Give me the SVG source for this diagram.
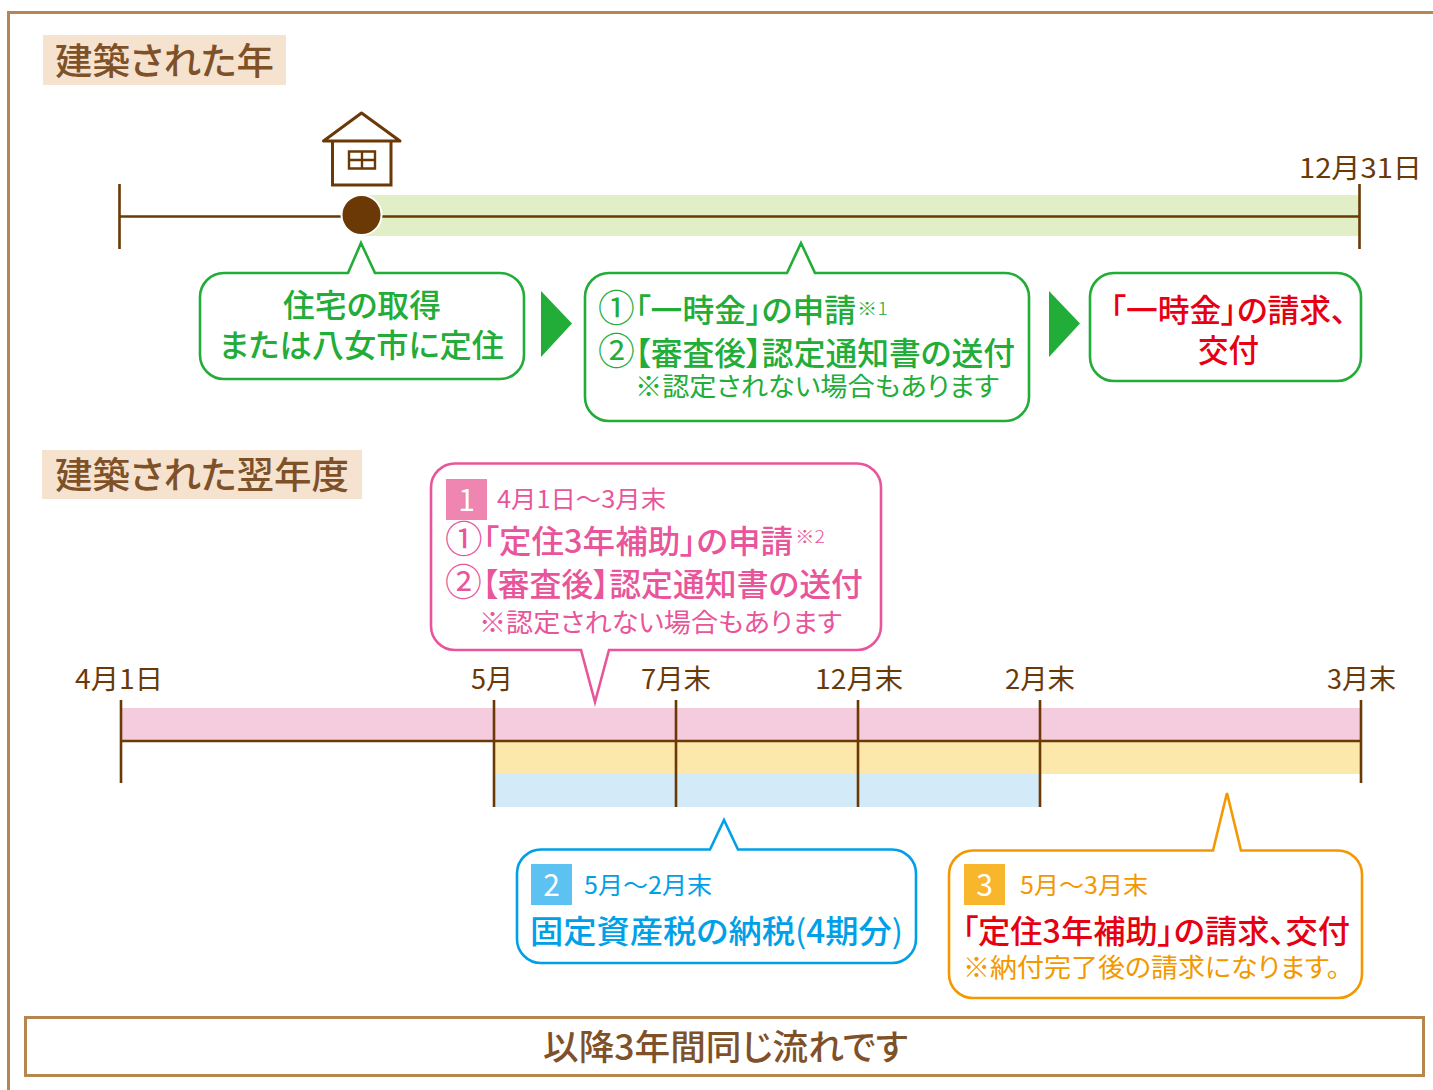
<svg xmlns="http://www.w3.org/2000/svg" width="1433" height="1090" viewBox="0 0 1433 1090">
<style>
text{font-family:"Noto Sans CJK JP","Noto Sans",sans-serif;font-feature-settings:"palt";font-weight:500}
.w{font-feature-settings:normal;font-weight:400;font-size:37px}
.x{font-feature-settings:normal}
.y{font-feature-settings:normal;font-weight:400}
.h{font-size:37px;fill:#7f5128}
.d{font-size:27px;fill:#6a3906;font-weight:400}
.m{font-size:32px}
.s{font-size:26px;font-weight:400}
.t{font-size:24px;font-weight:400}
.n{font-size:17px;font-weight:300}
.b{font-size:30px;fill:#fff;text-anchor:middle;font-weight:400}
.g{fill:#22ac38}.p{fill:#e9559a}.c{fill:#00a0e9}.o{fill:#f39800}.r{fill:#e60012}
.co{fill:#fff;stroke-width:2.6;stroke-linejoin:miter}
.ln{stroke:#6a3906;stroke-width:2.6;fill:none}
</style>
<g id="frame"><path d="M1433 12.500H8.500V1090" fill="none" stroke="#b5874f" stroke-width="3"/></g>

<g id="heading-year"><rect x="43" y="35" width="243" height="50" fill="#f5e3d0"/><text class="h" x="55" y="75" textLength="219" lengthAdjust="spacingAndGlyphs">建築された年</text></g>
<g id="heading-next"><rect x="42" y="450" width="320" height="49" fill="#f5e3d0"/><text class="h" x="55" y="489" textLength="294" lengthAdjust="spacingAndGlyphs">建築された翌年度</text></g>

<g id="bands">
<rect x="362" y="195" width="998" height="41" fill="#e2eec5"/>
<rect x="121" y="708" width="1240" height="33" fill="#f5cbde"/>
<rect x="494" y="741" width="867" height="33" fill="#fde8ab"/>
<rect x="494" y="774" width="546" height="33" fill="#d3ebf8"/>
</g>

<g id="connectors">
<path class="ln" d="M119.500 184V249M119.500 216.500H1360M1359.500 184V249"/>
<path class="ln" d="M121 741H1361M121 700V783M494 700V807M676 700V807M858 700V807M1040 700V807M1361 700V783"/>
<path d="M541 291L572 323.500L541 357Z" fill="#22ac38"/>
<path d="M1049 291L1080 323.500L1049 357Z" fill="#22ac38"/>
</g>

<g id="purchase-marker"><circle cx="361.500" cy="215" r="20" fill="#6a3906" stroke="#fff" stroke-width="2"/></g>
<g id="house" fill="none" stroke="#6a3906" stroke-width="3">
<path d="M323.500 141L361.500 113L400 141Z" fill="#fff" stroke-linejoin="round"/>
<path d="M332.500 141V185H391V141"/>
<path d="M349 151.500H375V168.500H349ZM362 151.500V168.500M349 160H375" stroke-width="2.400"/>
</g>

<g id="date-labels">
<text class="d" x="1299" y="178" textLength="123" lengthAdjust="spacingAndGlyphs">12月31日</text>
<text class="d" x="75" y="689" textLength="88" lengthAdjust="spacingAndGlyphs">4月1日</text>
<text class="d" x="471" y="689" textLength="42" lengthAdjust="spacingAndGlyphs">5月</text>
<text class="d" x="641" y="689" textLength="70" lengthAdjust="spacingAndGlyphs">7月末</text>
<text class="d" x="815" y="689" textLength="88" lengthAdjust="spacingAndGlyphs">12月末</text>
<text class="d" x="1005" y="689" textLength="70" lengthAdjust="spacingAndGlyphs">2月末</text>
<text class="d" x="1327" y="689" textLength="69" lengthAdjust="spacingAndGlyphs">3月末</text>
</g>

<g id="callout-acquire">
<path class="co" stroke="#22ac38" d="M224 273H348L361 243L375 273H500A24 24 0 0 1 524 297V355A24 24 0 0 1 500 379H224A24 24 0 0 1 200 355V297A24 24 0 0 1 224 273Z"/>
<text class="m g" x="283" y="317" textLength="158" lengthAdjust="spacingAndGlyphs">住宅の取得</text>
<text class="m g" x="219" y="357" textLength="285" lengthAdjust="spacingAndGlyphs">または八女市に定住</text>
</g>

<g id="callout-lump">
<path class="co" stroke="#22ac38" d="M609 273H787L801 243L815 273H1005A24 24 0 0 1 1029 297V397A24 24 0 0 1 1005 421H609A24 24 0 0 1 585 397V297A24 24 0 0 1 609 273Z"/>
<text class="m g" x="598" y="322" textLength="258" lengthAdjust="spacingAndGlyphs"><tspan class="w">①</tspan>「一時金」の申請</text>
<text class="n g" x="857" y="315" textLength="31" lengthAdjust="spacingAndGlyphs">※1</text>
<text class="m g" x="598" y="365" textLength="417" lengthAdjust="spacingAndGlyphs"><tspan class="w">②</tspan>【審査後】認定通知書の送付</text>
<text class="s g" x="635" y="396" textLength="364" lengthAdjust="spacingAndGlyphs">※認定されない場合もあります</text>
</g>

<g id="callout-claim">
<path class="co" stroke="#22ac38" d="M1114 273H1337A24 24 0 0 1 1361 297V357A24 24 0 0 1 1337 381H1114A24 24 0 0 1 1090 357V297A24 24 0 0 1 1114 273Z"/>
<text class="m r" x="1110" y="322" textLength="237" lengthAdjust="spacingAndGlyphs">「一時金」の請求、</text>
<text class="m r" x="1198" y="362" textLength="61" lengthAdjust="spacingAndGlyphs">交付</text>
</g>

<g id="callout-1">
<path class="co" stroke="#e9559a" d="M455 463.500H857A24 24 0 0 1 881 487.500V626A24 24 0 0 1 857 650H609L595 702L581 650H455A24 24 0 0 1 431 626V487.500A24 24 0 0 1 455 463.500Z"/>
<rect x="446" y="479" width="41" height="41" fill="#ee86b1"/>
<text class="b" x="466.500" y="511">1</text>
<text class="t p" x="497" y="508" textLength="169" lengthAdjust="spacingAndGlyphs">4月1日<tspan class="x">〜</tspan>3月末</text>
<text class="m p" x="445" y="553" textLength="348" lengthAdjust="spacingAndGlyphs"><tspan class="w">①</tspan>「定住<tspan class="x">3</tspan>年補助」の申請</text>
<text class="n p" x="795" y="543" textLength="30" lengthAdjust="spacingAndGlyphs">※2</text>
<text class="m p" x="445" y="596" textLength="418" lengthAdjust="spacingAndGlyphs"><tspan class="w">②</tspan>【審査後】認定通知書の送付</text>
<text class="s p" x="479" y="632" textLength="363" lengthAdjust="spacingAndGlyphs">※認定されない場合もあります</text>
</g>

<g id="callout-2">
<path class="co" stroke="#00a0e9" d="M541 849.500H710L724 820L738 849.500H892A24 24 0 0 1 916 873.500V939A24 24 0 0 1 892 963H541A24 24 0 0 1 517 939V873.500A24 24 0 0 1 541 849.500Z"/>
<rect x="531" y="864" width="41" height="41" fill="#5bc2f2"/>
<text class="b" x="551.500" y="896">2</text>
<text class="t c" x="584" y="894" textLength="128" lengthAdjust="spacingAndGlyphs">5月<tspan class="x">〜</tspan>2月末</text>
<text class="m c" x="530" y="943" textLength="373" lengthAdjust="spacingAndGlyphs">固定資産税の納税<tspan class="y">(</tspan><tspan class="x">4</tspan>期分<tspan class="y">)</tspan></text>
</g>

<g id="callout-3">
<path class="co" stroke="#f39800" d="M973 850.500H1213L1227 793L1241 850.500H1338A24 24 0 0 1 1362 874.500V974A24 24 0 0 1 1338 998H973A24 24 0 0 1 949 974V874.500A24 24 0 0 1 973 850.500Z"/>
<rect x="964" y="864" width="41" height="41" fill="#f8b62d"/>
<text class="b" x="984.500" y="896">3</text>
<text class="t o" x="1020" y="894" textLength="128" lengthAdjust="spacingAndGlyphs">5月<tspan class="x">〜</tspan>3月末</text>
<text class="m r" x="962" y="943" textLength="388" lengthAdjust="spacingAndGlyphs">「定住<tspan class="x">3</tspan>年補助」の請求、交付</text>
<text class="s o" x="963" y="977" textLength="377" lengthAdjust="spacingAndGlyphs">※納付完了後の請求になります。</text>
</g>

<g id="footer">
<rect x="25.500" y="1017.500" width="1398" height="58" fill="#fff" stroke="#b5874f" stroke-width="3"/>
<text x="543" y="1060" font-size="35" fill="#7f5128" textLength="365" lengthAdjust="spacingAndGlyphs">以降<tspan class="x">3</tspan>年間同じ流れです</text>
</g>
</svg>
